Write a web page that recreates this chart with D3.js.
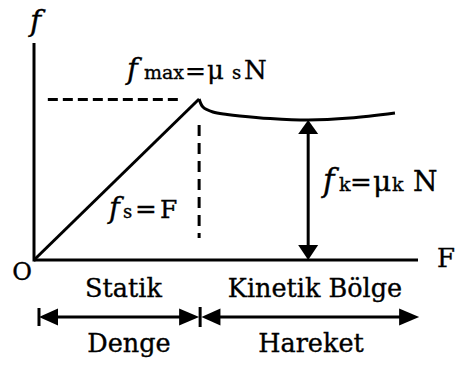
<!DOCTYPE html>
<html><head><meta charset="utf-8">
<script src="https://cdn.jsdelivr.net/npm/d3@7"></script>
<style>
html,body{margin:0;padding:0;background:#fff;}
svg{display:block;}
text{font-family:"DejaVu Serif",serif;fill:#000;stroke:#000;stroke-width:0.35px;}
</style></head>
<body><svg id="c" width="456" height="365"></svg>
<script>
// ---- data (F on x, f on y, arbitrary units 0..100) ----
const staticLine = [[0, 0], [43.0, 74.2]];
const kineticCurve = [[43.0, 74.2], [44.0, 70.5], [46.6, 68.2], [50.3, 67.1], [53.6, 66.4],
                      [61.5, 65.2], [71.4, 64.5], [82.3, 65.4], [94.0, 67.7]];
const fMax = 74.0;
const fMaxDash = [3.6, 37.6];      // horizontal dashed extent (F)
const Fpeak = 43.0;
const peakDashY = [62.2, 10.1];    // vertical dashed extent (f)
const fkArrowF = 71.4, fkValue = 64.5;
const regions = [
  {name: "Statik", state: "Denge", from: 1.3, to: 43.0, leftBar: true},
  {name: "Kinetik Bölge", state: "Hareket", from: 43.6, to: 100.3, leftBar: false}
];
const axisLabels = {y: "f", x: "F", origin: "O"};

const svg = d3.select("#c");
const x = d3.scaleLinear().domain([0, 100]).range([34, 418]);
const y = d3.scaleLinear().domain([0, 100]).range([260, 43]);
const line = d3.line().x(d => x(d[0])).y(d => y(d[1]));
const SW = 3;

// axes
svg.append("line").attr("x1", x(0)).attr("x2", x(0)).attr("y1", y(0) + 1.5).attr("y2", y(100))
  .attr("stroke", "#000").attr("stroke-width", SW);
svg.append("line").attr("x1", x(0)).attr("x2", x(100)).attr("y1", y(0)).attr("y2", y(0))
  .attr("stroke", "#000").attr("stroke-width", SW);

// static line
svg.append("path").attr("d", line(staticLine)).attr("fill", "none")
  .attr("stroke", "#000").attr("stroke-width", SW);
// kinetic curve
svg.append("path").attr("d", line.curve(d3.curveCatmullRom)(kineticCurve)).attr("fill", "none")
  .attr("stroke", "#000").attr("stroke-width", SW).attr("stroke-linejoin", "round");

// dashed guides
svg.append("line").attr("x1", x(fMaxDash[0])).attr("x2", x(fMaxDash[1]))
  .attr("y1", y(fMax)).attr("y2", y(fMax))
  .attr("stroke", "#000").attr("stroke-width", SW).attr("stroke-dasharray", "10,5");
svg.append("line").attr("x1", x(Fpeak)).attr("x2", x(Fpeak))
  .attr("y1", y(peakDashY[0])).attr("y2", y(peakDashY[1]))
  .attr("stroke", "#000").attr("stroke-width", SW).attr("stroke-dasharray", "11,7");

// arrowhead helper: tip at (tx,ty), direction
function head(tx, ty, dir, len, half) {
  let p;
  if (dir === "up") p = [[tx, ty], [tx - half, ty + len], [tx + half, ty + len]];
  if (dir === "down") p = [[tx, ty], [tx - half, ty - len], [tx + half, ty - len]];
  if (dir === "left") p = [[tx, ty], [tx + len, ty - half], [tx + len, ty + half]];
  if (dir === "right") p = [[tx, ty], [tx - len, ty - half], [tx - len, ty + half]];
  svg.append("path").attr("d", "M" + p.join("L") + "Z").attr("fill", "#000");
}

// fk double arrow
const ax = x(fkArrowF);
svg.append("line").attr("x1", ax).attr("x2", ax).attr("y1", y(fkValue) + 10).attr("y2", y(0) - 10)
  .attr("stroke", "#000").attr("stroke-width", SW);
head(ax, y(fkValue), "up", 14, 10);
head(ax, y(0), "down", 15, 10);

// region arrows
const ry = 317;
regions.forEach(r => {
  const x0 = x(r.from), x1 = x(r.to);
  svg.append("line").attr("x1", x0 + 10).attr("x2", x1 - 10).attr("y1", ry).attr("y2", ry)
    .attr("stroke", "#000").attr("stroke-width", SW);
  head(x0, ry, "left", 19, 8.5);
  head(x1, ry, "right", 20, 8.5);
  if (r.leftBar) {
    svg.append("line").attr("x1", x0).attr("x2", x0).attr("y1", ry - 9).attr("y2", ry + 9)
      .attr("stroke", "#000").attr("stroke-width", SW);
  }
});
// separator bar
svg.append("line").attr("x1", x(Fpeak) + 1).attr("x2", x(Fpeak) + 1).attr("y1", ry - 10).attr("y2", ry + 10)
  .attr("stroke", "#000").attr("stroke-width", SW);

// region labels
const regionCenters = [123.5, 315];
const stateCenters = [129, 311];
regions.forEach((r, i) => {
  svg.append("text").attr("x", regionCenters[i]).attr("y", 297).attr("text-anchor", "middle")
    .attr("font-size", 25.5).text(r.name);
  svg.append("text").attr("x", stateCenters[i]).attr("y", 352).attr("text-anchor", "middle")
    .attr("font-size", 25.5).text(r.state);
});

// axis labels
svg.append("text").attr("x", 30).attr("y", 31).attr("font-size", 30).attr("font-style", "italic")
  .text(axisLabels.y);
svg.append("text").attr("x", 437).attr("y", 267).attr("font-size", 26).text(axisLabels.x);
svg.append("text").attr("x", 22).attr("y", 280).attr("text-anchor", "middle").attr("font-size", 24)
  .text(axisLabels.origin);

// formula labels
function formula(parts, baseline) {
  const t = svg.append("text").attr("y", baseline);
  parts.forEach(p => {
    t.append("tspan").attr("x", p[1]).attr("font-size", p[2])
      .attr("font-style", p[3] ? "italic" : "normal").text(p[0]);
  });
}
formula([["f", 127, 29, true], ["max", 144, 19], ["=", 185, 25], ["μ", 207, 26], ["s", 232, 18], ["N", 244, 26]], 79);
formula([["f", 109, 29, true], ["s", 123, 18], ["=", 135, 26], ["F", 160, 25]], 218);
formula([["f", 323, 31, true], ["k", 339, 19], ["=", 350, 26], ["μ", 373, 28], ["k", 392, 19], ["N", 413, 28]], 191);
</script></body></html>
